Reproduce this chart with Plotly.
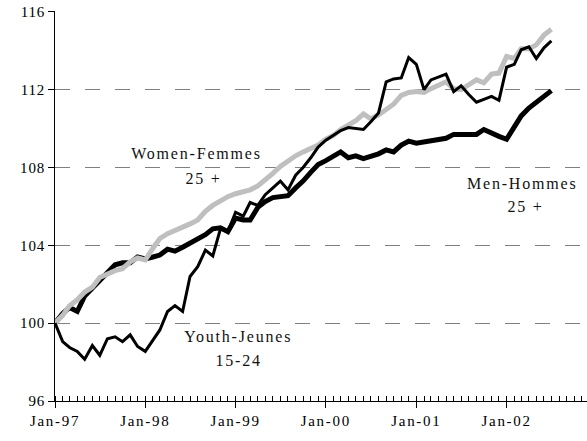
import pandas as pd
import plotly.graph_objects as go

months = pd.date_range("1997-01-01", periods=67, freq="MS")

youth = [100.0, 99.05, 98.75, 98.55, 98.15, 98.85, 98.35, 99.2, 99.3, 99.05,
         99.4, 98.8, 98.55, 99.15, 99.65, 100.6, 100.9, 100.6, 102.4, 102.9,
         103.75, 103.45, 104.85, 104.7, 105.7, 105.5, 106.2, 106.05, 106.6, 106.95,
         107.3, 106.85, 107.6, 108.0, 108.5, 109.05, 109.4, 109.65, 109.9, 110.05,
         110.0, 109.95, 110.35, 110.8, 112.4, 112.55, 112.6, 113.65, 113.3, 112.0,
         112.5, 112.65, 112.8, 111.9, 112.2, 111.75, 111.35, 111.5, 111.65, 111.45,
         113.15, 113.3, 114.05, 114.2, 113.6, 114.15, 114.5]

men = [100.0, 100.5, 100.8, 100.6, 101.4, 101.8, 102.2, 102.6, 103.0, 103.1,
       103.1, 103.4, 103.3, 103.4, 103.5, 103.8, 103.7, 103.9, 104.1, 104.3,
       104.55, 104.85, 104.9, 104.7, 105.4, 105.3, 105.3, 105.95, 106.25, 106.45,
       106.5, 106.55, 106.95, 107.3, 107.75, 108.15, 108.35, 108.55, 108.8, 108.5,
       108.6, 108.45, 108.55, 108.7, 108.9, 108.8, 109.15, 109.35, 109.25, 109.3,
       109.4, 109.45, 109.5, 109.7, 109.7, 109.7, 109.7, 109.95, 109.75, 109.6,
       109.45, 110.1, 110.65, 111.05, 111.35, 111.7, 111.95]

women = [100.0, 100.4, 100.9, 101.2, 101.6, 101.85, 102.35, 102.55, 102.7, 102.8,
         103.15, 103.35, 103.25, 103.85, 104.35, 104.6, 104.75, 104.9, 105.1, 105.3,
         105.75, 106.05, 106.3, 106.5, 106.65, 106.75, 106.85, 107.05, 107.35, 107.7,
         108.05, 108.35, 108.6, 108.8, 108.95, 109.15, 109.45, 109.65, 109.95, 110.15,
         110.4, 110.75, 110.5, 110.7, 110.95, 111.25, 111.7, 111.85, 111.9, 111.85,
         112.05, 112.25, 112.4, 112.05, 112.0, 112.25, 112.5, 112.35, 112.8, 112.85,
         113.7, 113.6, 114.1, 114.1, 114.3, 114.8, 115.1]

y_ticks = [96, 100, 104, 108, 112, 116]

FONT = "Liberation Serif, Times New Roman, serif"

fig = go.Figure()
fig.add_trace(go.Scatter(x=months, y=men, mode="lines", name="Men-Hommes 25 +",
                         line=dict(color="black", width=5)))
fig.add_trace(go.Scatter(x=months, y=women, mode="lines", name="Women-Femmes 25 +",
                         line=dict(color="#bfbfbf", width=5)))
fig.add_trace(go.Scatter(x=months, y=youth, mode="lines", name="Youth-Jeunes 15-24",
                         line=dict(color="black", width=3)))

labels = [
    ("1998-07-28", 108.7, "Women-Femmes"),
    ("1998-08-25", 107.45, "25 +"),
    ("2002-03-04", 107.2, "Men-Hommes"),
    ("2002-03-17", 105.97, "25 +"),
    ("1999-01-10", 99.3, "Youth-Jeunes"),
    ("1999-01-13", 98.1, "15-24"),
]
for x, y, t in labels:
    fig.add_annotation(x=x, y=y, text=t, showarrow=False, xanchor="center",
                       yanchor="middle", font=dict(family=FONT, size=16, color="#111"))

fig.update_layout(
    width=587, height=441,
    margin=dict(l=55, r=0, t=11, b=40, autoexpand=False),
    paper_bgcolor="white", plot_bgcolor="white",
    showlegend=False,
    font=dict(family=FONT, size=15, color="black"),
)
fig.update_xaxes(
    type="date",
    range=["1997-01-01", "2002-11-22"],
    tick0="1997-01-01", dtick="M12", tickformat="%b-%y",
    ticks="outside", ticklen=6, tickcolor="black", tickwidth=1,
    minor=dict(dtick="M1", ticks="inside", ticklen=5, tickcolor="black", tickwidth=1,
               showgrid=False),
    showline=True, linecolor="black", linewidth=1,
    showgrid=False, zeroline=False, automargin=False,
    tickfont=dict(family=FONT, size=15),
)
fig.update_yaxes(
    range=[96, 116.04], tickvals=y_ticks,
    ticks="outside", ticklen=6, tickcolor="black", tickwidth=1,
    showline=True, linecolor="black", linewidth=1,
    showgrid=True, gridcolor="#808080", gridwidth=1, griddash="15px,15px",
    zeroline=False, automargin=False, ticklabeloverflow="allow",
    tickfont=dict(family=FONT, size=15),
)

page_js = (
    "document.body.style.margin='0';"
    "document.querySelectorAll('.main-svg .xtick text').forEach(function(t){t.style.letterSpacing='1.7px';});"
    "document.querySelectorAll('.main-svg .ytick text').forEach(function(t){t.style.letterSpacing='0.8px';});"
    "document.querySelectorAll('.main-svg .annotation-text').forEach(function(t){t.style.letterSpacing='1.8px';});"
)

fig.write_html("out.html", post_script=page_js,
               config={"displayModeBar": False, "staticPlot": True})
